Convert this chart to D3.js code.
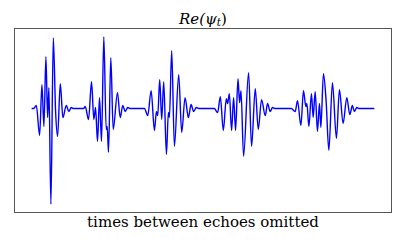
<!DOCTYPE html>
<html>
<head>
<meta charset="utf-8">
<script src="https://cdn.jsdelivr.net/npm/d3@7"></script>
<style>
  body { margin: 0; background: #fff; }
</style>
</head>
<body>
<div id="chart"></div>
<script>
// echoes: [time, Re(psi)]
const echo1 = [[0,0],[2,0],[4.7,0.03],[8,-0.27],[10.3,0.24],[12.3,-0.18],[14.3,0.52],[16,-0.09],[17.3,0.21],
  [19.3,-0.96],[21.7,0.71],[24,-0.03],[26,-0.28],[28.7,0.25],[31.3,-0.09],[34.7,0.03],[37.3,-0.03],[39.7,0.01],[42,0]];
const echo2 = [[52,0],[53.7,0.02],[57,-0.11],[60,0.27],[62.3,-0.11],[64,0.01],[66,-0.33],[68,0.11],[70,-0.33],
  [72.3,0.72],[74.7,-0.21],[75.7,-0.18],[77,-0.44],[79.3,0.51],[81.7,-0.21],[86,0.16],[88.7,-0.09],[91.3,0.03],
  [93.7,-0.03],[96.3,0.01],[99,0]];
const echo3 = [[113,0],[116.3,-0.07],[119.7,0.18],[123,-0.22],[125,-0.03],[126.3,-0.07],[128.3,0.29],[130.3,-0.11],
  [132.3,0.27],[135,-0.46],[137,-0.04],[138,-0.09],[140.3,0.58],[143,-0.38],[147.3,0.34],[150.3,-0.24],[153.7,0.11],
  [157,-0.09],[159.7,0.04],[162.3,-0.03],[165,0.01],[168,0]];
const echo4 = [[183,0],[186.3,-0.04],[189,0.12],[192,-0.22],[195,0.10],[196.3,0.05],[198,0.15],[200.3,-0.22],
  [202.3,0.11],[204.3,-0.22],[206.7,0.30],[208.3,0.06],[209.7,0.18],[212.3,-0.48],[217.3,0.36],[220.3,-0.38],
  [224,0.20],[227,-0.21],[230.3,0.09],[234,-0.07],[236.3,0.05],[239,-0.03],[241.3,0.01],[244,0]];
const echo5 = [[260,0],[264,-0.03],[266.3,0.08],[269.7,-0.17],[272.3,0.18],[274.7,0.02],[275.7,0.05],[277.7,-0.18],
  [280.3,0.15],[282,-0.09],[284,0.17],[286.3,-0.23],[288.3,0.05],[289.7,-0.19],[292.3,0.35],[295,0.07],[297.7,-0.42],
  [301.3,0.26],[305.3,-0.30],[308.3,0.19],[312,-0.15],[315.7,0.11],[318.7,-0.06],[321.3,0.03],[323.3,-0.03],
  [325.7,0.01],[328,0],[343.3,0]];

const titleText = "Re(ψ";
const titleSub = "t";
const xLabel = "times between echoes omitted";

const width = 407, height = 244;
const margin = {top: 28.5, right: 15.5, bottom: 31.5, left: 14.5};

const data = [].concat(echo1, echo2, echo3, echo4, echo5);

// matplotlib-ish 5% padding
function padded(ext) {
  const d = ext[1] - ext[0];
  return [ext[0] - 0.05 * d, ext[1] + 0.05 * d];
}

const x = d3.scaleLinear()
  .domain(padded(d3.extent(data, d => d[0])))
  .range([margin.left, width - margin.right]);
const y = d3.scaleLinear()
  .domain(padded(d3.extent(data, d => d[1])))
  .range([height - margin.bottom, margin.top]);

const svg = d3.select("#chart").append("svg")
  .attr("width", width)
  .attr("height", height);

const line = d3.line()
  .x(d => x(d[0]))
  .y(d => y(d[1]))
  .curve(d3.curveMonotoneX);

svg.append("path")
  .datum(data)
  .attr("fill", "none")
  .attr("stroke", "#0000ff")
  .attr("stroke-width", 1.4)
  .attr("stroke-linejoin", "round")
  .attr("d", line);

// frame
svg.append("rect")
  .attr("x", margin.left)
  .attr("y", margin.top)
  .attr("width", width - margin.left - margin.right)
  .attr("height", height - margin.top - margin.bottom)
  .attr("fill", "none")
  .attr("stroke", "#555")
  .attr("stroke-width", 1);

const title = svg.append("text")
  .attr("x", (margin.left + width - margin.right) / 2)
  .attr("y", 23.5)
  .attr("text-anchor", "middle")
  .style("font-family", "'DejaVu Serif', serif")
  .style("font-style", "italic")
  .style("font-size", "15px")
  .text(titleText);
title.append("tspan")
  .attr("dy", 2.5)
  .style("font-size", "10.5px")
  .text(titleSub);
title.append("tspan")
  .attr("dy", -2.5)
  .style("font-style", "normal")
  .text(")");

svg.append("text")
  .attr("x", (margin.left + width - margin.right) / 2)
  .attr("y", 227)
  .attr("text-anchor", "middle")
  .style("font-family", "'DejaVu Serif', serif")
  .style("font-size", "15px")
  .text(xLabel);
</script>
</body>
</html>
